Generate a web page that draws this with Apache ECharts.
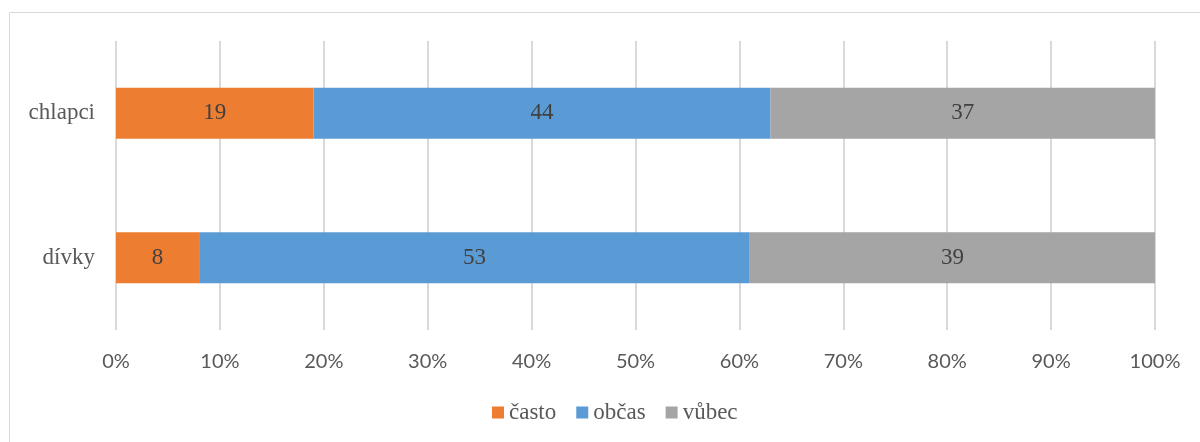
<!DOCTYPE html>
<html><head><meta charset="utf-8">
<script src="https://cdn.jsdelivr.net/npm/echarts@6/dist/echarts.min.js"></script>
<style>html,body{margin:0;padding:0;background:#fff}#c{width:1200px;height:442px}</style>
</head><body><div id="c"></div>
<script>
var categories = ['dívky', 'chlapci'];
var casto = [8, 19];
var obcas = [53, 44];
var vubec = [39, 37];
var tickLabels = ['0%','10%','20%','30%','40%','50%','60%','70%','80%','90%','100%'];
var serif = '"Liberation Serif", "DejaVu Serif", serif';
var chart = echarts.init(document.getElementById('c'));
function s(name, data, color) {
  return {
    name: name, type: 'bar', stack: 'a', data: data, barWidth: 51,
    itemStyle: {color: color},
    label: {show: true, position: 'inside', color: '#404040', fontFamily: serif, fontSize: 23},
    emphasis: {disabled: true}
  };
}
chart.setOption({
  animation: false,
  graphic: [{type: 'rect', shape: {x: 9.5, y: 12.5, width: 1200, height: 440}, style: {fill: 'none', stroke: '#d9d9d9', lineWidth: 1}, z: -1}],
  grid: {left: 116, right: 45, top: 41, bottom: 112},
  legend: {
    bottom: 13, left: 487, itemWidth: 12, itemHeight: 12, itemGap: 20, icon: 'rect',
    textStyle: {fontFamily: serif, fontSize: 23, color: '#595959'},
    data: ['často', 'občas', 'vůbec']
  },
  xAxis: {
    type: 'value', min: 0, max: 100, interval: 10,
    axisLine: {show: false}, axisTick: {show: false},
    splitLine: {lineStyle: {color: '#d9d9d9', width: 2}},
    axisLabel: {margin: 22, color: '#595959', fontFamily: 'Lato, "Open Sans", sans-serif', fontSize: 20,
      formatter: function (v) { return tickLabels[Math.round(v / 10)]; }}
  },
  yAxis: {
    type: 'category', data: categories,
    axisLine: {show: false}, axisTick: {show: false},
    axisLabel: {margin: 21, color: '#595959', fontFamily: serif, fontSize: 23}
  },
  series: [s('často', casto, '#ED7D31'), s('občas', obcas, '#5B9BD5'), s('vůbec', vubec, '#A5A5A5')]
});
</script></body></html>
